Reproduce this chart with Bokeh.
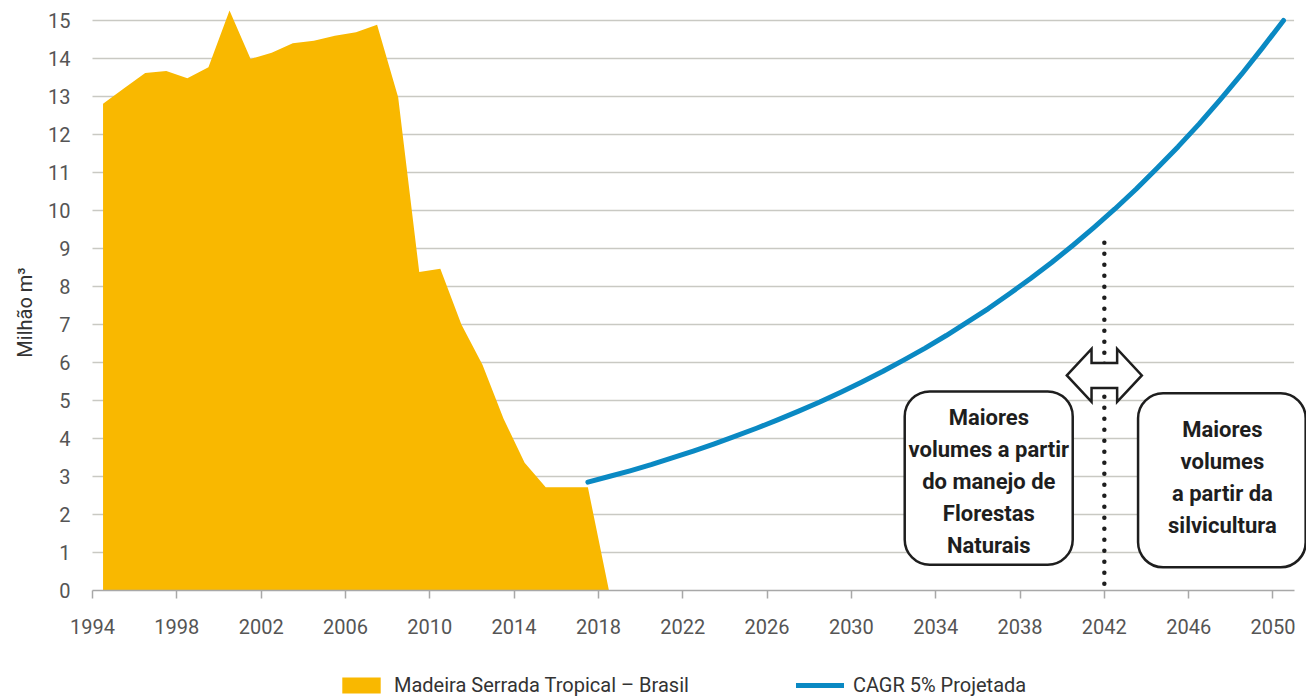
import math
from bokeh.plotting import figure
from bokeh.models import (Range1d, FixedTicker, BoxAnnotation, Legend, LegendItem, Label)
from bokeh.core.properties import value
from bokeh.embed import file_html
from bokeh.resources import INLINE

# Tropical sawn wood production, Brazil (million m³), plotted at mid-year
hist_years = [1994.5, 1995.5, 1996.5, 1997.5, 1998.5, 1999.5, 2000.5, 2001.5,
              2002.5, 2003.5, 2004.5, 2005.5, 2006.5, 2007.5, 2008.5, 2009.5,
              2010.5, 2011.5, 2012.5, 2013.5, 2014.5, 2015.5, 2016.5, 2017.5,
              2018.5]
hist_values = [12.81, 13.22, 13.62, 13.67, 13.48, 13.77, 15.26, 13.99,
               14.15, 14.40, 14.47, 14.60, 14.69, 14.89, 12.98, 8.38,
               8.47, 7.00, 5.94, 4.52, 3.36, 2.72, 2.72, 2.72,
               0.0]

# Projection with 5% CAGR (million m³)
proj_years = [2017.5, 2018.5, 2019.5, 2020.5, 2021.5, 2022.5, 2023.5, 2024.5,
              2025.5, 2026.5, 2027.5, 2028.5, 2029.5, 2030.5, 2031.5, 2032.5,
              2033.5, 2034.5, 2035.5, 2036.5, 2037.5, 2038.5, 2039.5, 2040.5,
              2041.5, 2042.5, 2043.5, 2044.5, 2045.5, 2046.5, 2047.5, 2048.5,
              2049.5, 2050.5]
proj_values = [2.85, 3.00, 3.15, 3.31, 3.49, 3.67, 3.86, 4.06,
               4.27, 4.49, 4.72, 4.96, 5.22, 5.49, 5.77, 6.07,
               6.38, 6.71, 7.06, 7.42, 7.81, 8.21, 8.63, 9.08,
               9.55, 10.04, 10.56, 11.11, 11.68, 12.28, 12.92, 13.58,
               14.28, 15.00]

x_ticks = [1994, 1998, 2002, 2006, 2010, 2014, 2018, 2022, 2026, 2030,
           2034, 2038, 2042, 2046, 2050]
y_ticks = list(range(0, 16))

label_left = "Maiores\nvolumes a partir\ndo manejo de\nFlorestas\nNaturais"
label_right = "Maiores\nvolumes\na partir da\nsilvicultura"
divider_year = 2042

FONT = "Roboto"
GOLD = "#F9B800"
BLUE = "#0A89C3"
GRID = "#C9C9C3"
INK = "#1E1E1E"

# The frame covers the whole canvas; axes are pinned at x=1994 / y=0 so the
# legend and axis labels can live inside it.
W, H = 1306, 699
PX_PER_YEAR, PX_PER_UNIT = 21.08, 38.0
ORIGIN_X, ORIGIN_Y = 92, 590          # canvas position of (1994, 0)
X0 = 1994 - ORIGIN_X / PX_PER_YEAR
X1 = 1994 + (W - ORIGIN_X) / PX_PER_YEAR
Y1 = ORIGIN_Y / PX_PER_UNIT
Y0 = -(H - ORIGIN_Y) / PX_PER_UNIT
X_END = 2051

p = figure(width=W, height=H, output_backend="svg", toolbar_location=None,
           x_range=Range1d(X0, X1), y_range=Range1d(Y0, Y1),
           min_border=0)
p.outline_line_color = None
p.xgrid.visible = False
p.ygrid.visible = False

# horizontal guide lines that stop short of the right edge
grid_y = y_ticks[1:]
p.segment(x0=[1994] * len(grid_y), y0=grid_y, x1=[X_END] * len(grid_y), y1=grid_y,
          line_color=GRID, line_width=1.3, level="underlay")

# rounded annotation boxes
box_style = dict(fill_color="white", fill_alpha=1, line_color=INK, line_alpha=1,
                 line_width=2.5, border_radius=25, level="underlay")
p.add_layout(BoxAnnotation(left=2032.53, right=2040.5, bottom=0.68, top=5.24, **box_style))
p.add_layout(BoxAnnotation(left=2043.6, right=2051.55, bottom=0.61, top=5.19, **box_style))

area_r = p.varea(x=hist_years, y1=[0] * len(hist_years), y2=hist_values,
                 fill_color=GOLD)
line_r = p.line(x=proj_years, y=proj_values, line_color=BLUE, line_width=5,
                line_cap="round", line_join="round")

# dotted divider and double-headed arrow
p.segment(x0=[divider_year], y0=[0.18], x1=[divider_year], y1=[9.34],
          line_color=INK, line_width=4.5, line_dash="0 11",
          line_cap="round")

ax, ay = divider_year, 5.66
shape_px = [(-37.5, 0), (-12.8, 26.5), (-12.8, 12.5), (12.8, 12.5),
            (12.8, 26.5), (37.5, 0), (12.8, -26.5), (12.8, -12.5),
            (-12.8, -12.5), (-12.8, -26.5)]
p.patch(x=[ax + dx / PX_PER_YEAR for dx, dy in shape_px],
        y=[ay + dy / PX_PER_UNIT for dx, dy in shape_px],
        fill_color="white", line_color=INK, line_width=2.5,
        line_join="miter")

text_style = dict(text_align="center", text_baseline="middle",
                  text_font=value(FONT), text_font_style="bold",
                  text_font_size="22px", text_line_height=1.28,
                  text_color=INK)
p.text(x=[2036.52], y=[2.88], text=[label_left], **text_style)
p.text(x=[2047.6], y=[2.97], text=[label_right], **text_style)

# axes
xa = p.xaxis[0]
xa.fixed_location = 0
xa.ticker = FixedTicker(ticks=x_ticks)
xa.bounds = (1994, X_END)
xa.axis_line_color = "#A8A8A8"
xa.axis_line_width = 1.5
xa.major_tick_line_color = "#A8A8A8"
xa.major_tick_line_width = 1.5
xa.major_tick_out = 8
xa.major_tick_in = 0
xa.minor_tick_line_color = None
xa.major_label_standoff = 20
xa.major_label_text_font = FONT
xa.major_label_text_font_size = "20px"
xa.major_label_text_color = "#555555"

ya = p.yaxis[0]
ya.fixed_location = 1994
ya.ticker = FixedTicker(ticks=y_ticks)
ya.bounds = (0, 15)
ya.axis_line_color = None
ya.major_tick_line_color = None
ya.minor_tick_line_color = None
ya.major_label_standoff = 16
ya.major_label_text_font = FONT
ya.major_label_text_font_size = "20px"
ya.major_label_text_color = "#555555"

p.add_layout(Label(x=24, y=H - 312, x_units="screen", y_units="screen",
                   text="Milhão m³", angle=math.pi / 2,
                   text_align="center", text_baseline="middle",
                   text_font=FONT, text_font_size="20px", text_color="#333333"))

legend = Legend(items=[LegendItem(label="Madeira Serrada Tropical – Brasil", renderers=[area_r]),
                       LegendItem(label="CAGR 5% Projetada", renderers=[line_r])],
                location=(337, 2), orientation="horizontal",
                glyph_width=48, glyph_height=20, label_standoff=9, spacing=107,
                padding=0, margin=0, border_line_color=None,
                background_fill_alpha=0, label_height=20,
                label_text_font=FONT, label_text_font_size="20px",
                label_text_color="#333333")
p.add_layout(legend)

open("out.html", "w").write(file_html(p, INLINE))
